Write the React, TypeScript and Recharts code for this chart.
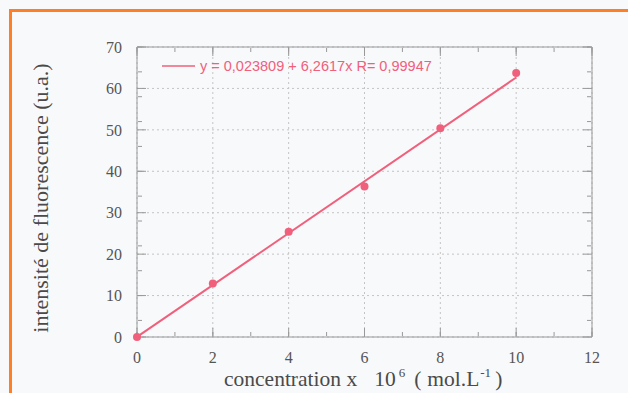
import React from "react";
import {
  ComposedChart,
  Scatter,
  Line,
  XAxis,
  YAxis,
  CartesianGrid,
} from "recharts";

// measured points
const concentrations = [0, 2, 4, 6, 8, 10];
const intensities = [0, 12.9, 25.4, 36.3, 50.4, 63.7];

// fitted line end points: y = 0,023809 + 6,2617x
const fitX = [0, 10];
const fitY = [0.024, 62.64];

const xTicks = [0, 2, 4, 6, 8, 10, 12];
const xMinor = [0, 0.5, 1, 1.5, 2, 2.5, 3, 3.5, 4, 4.5, 5, 5.5, 6, 6.5, 7, 7.5, 8, 8.5, 9, 9.5, 10, 10.5, 11, 11.5, 12];
const yTicks = [0, 10, 20, 30, 40, 50, 60, 70];
const yMinor = [0, 2, 4, 6, 8, 10, 12, 14, 16, 18, 20, 22, 24, 26, 28, 30, 32, 34, 36, 38, 40, 42, 44, 46, 48, 50, 52, 54, 56, 58, 60, 62, 64, 66, 68, 70];

const legendText = "y = 0,023809 + 6,2617x R= 0,99947";

const points = concentrations.map((x, i) => ({ x, y: intensities[i] }));
const fit = fitX.map((x, i) => ({ x, y: fitY[i] }));

const RED = "#f0607c";
const FRAME = "#999";
const SERIF = "'Liberation Serif', 'Times New Roman', serif";

const XLabel = ({ viewBox }: any) => {
  const x = viewBox.x + 87;
  const y = viewBox.y + 49;
  return (
    <text x={x} y={y} textAnchor="start" fontFamily={SERIF} fontSize={21.5} fill="#4a4a4a">
      <tspan>concentration x</tspan>
      <tspan dx={17}>10</tspan>
      <tspan dx={3} dy={-9} fontSize={13}>6</tspan>
      <tspan dx={9} dy={9}>(</tspan>
      <tspan dx={6}>mol.L</tspan>
      <tspan dx={1} dy={-9} fontSize={13}>-1</tspan>
      <tspan dx={4} dy={9}>)</tspan>
    </text>
  );
};

const YLabel = ({ viewBox }: any) => {
  const x = 40;
  const cy = viewBox.y + viewBox.height / 2 + 6;
  return (
    <text
      x={x}
      y={cy}
      textAnchor="middle"
      fontFamily={SERIF}
      fontSize={22}
      fill="#4a4a4a"
      transform={`rotate(-90, ${x}, ${cy})`}
      dominantBaseline="central"
    >
      intensité de fluorescence (u.a.)
    </text>
  );
};

const Hidden = () => <g />;

export default function App() {
  const dom: [number, number] = [0, 70];
  const xdom: [number, number] = [0, 12];
  const deco = { allowDataOverflow: true, tick: <Hidden /> };
  return (
    <div
      style={{
        position: "absolute",
        left: 0,
        top: 0,
        width: 628,
        height: 393,
        background: "#f8f9fb",
        overflow: "hidden",
      }}
    >
      <div
        style={{
          position: "absolute",
          left: 9,
          top: 9,
          width: 640,
          height: 400,
          borderTop: "3px solid #ff7f27",
          borderLeft: "3px solid #ff7f27",
        }}
      />
      <div style={{ position: "absolute", left: 0, top: 0 }}>
        <ComposedChart width={628} height={393} margin={{ top: 47, right: 36, bottom: 0, left: 77 }}>
          <CartesianGrid
            xAxisId="b"
            yAxisId="l"
            stroke="#c4c4c4"
            strokeDasharray="2 3"
            horizontalValues={yTicks}
            verticalValues={xTicks}
          />
          {/* bottom axis with labels */}
          <XAxis
            xAxisId="b"
            type="number"
            dataKey="x"
            domain={xdom}
            ticks={xTicks}
            axisLine={{ stroke: FRAME }}
            tickLine={false}
            tickMargin={9}
            tick={{ fontFamily: SERIF, fontSize: 16, fill: "#555" }}
            height={56}
            label={<XLabel />}
          />
          {/* inner ticks, bottom */}
          <XAxis xAxisId="bM" type="number" dataKey="x" domain={xdom} ticks={xTicks} mirror axisLine={false} tickSize={9} tickLine={{ stroke: FRAME }} height={1} {...deco} />
          <XAxis xAxisId="bm" type="number" dataKey="x" domain={xdom} ticks={xMinor} mirror axisLine={false} tickSize={4} tickLine={{ stroke: FRAME }} height={1} {...deco} />
          {/* top frame */}
          <XAxis xAxisId="tM" orientation="top" type="number" dataKey="x" domain={xdom} ticks={xTicks} mirror axisLine={{ stroke: FRAME }} tickSize={9} tickLine={{ stroke: FRAME }} height={1} {...deco} />
          <XAxis xAxisId="tm" orientation="top" type="number" dataKey="x" domain={xdom} ticks={xMinor} mirror axisLine={false} tickSize={4} tickLine={{ stroke: FRAME }} height={1} {...deco} />
          {/* left axis with labels */}
          <YAxis
            yAxisId="l"
            type="number"
            dataKey="y"
            domain={dom}
            ticks={yTicks}
            axisLine={{ stroke: FRAME }}
            tickLine={false}
            tickMargin={9}
            tick={{ fontFamily: SERIF, fontSize: 16, fill: "#555" }}
            width={60}
            label={<YLabel />}
          />
          <YAxis yAxisId="lM" type="number" dataKey="y" domain={dom} ticks={yTicks} mirror axisLine={false} tickSize={9} tickLine={{ stroke: FRAME }} width={1} {...deco} />
          <YAxis yAxisId="lm" type="number" dataKey="y" domain={dom} ticks={yMinor} mirror axisLine={false} tickSize={4} tickLine={{ stroke: FRAME }} width={1} {...deco} />
          {/* right frame */}
          <YAxis yAxisId="rM" orientation="right" type="number" dataKey="y" domain={dom} ticks={yTicks} mirror axisLine={{ stroke: FRAME }} tickSize={9} tickLine={{ stroke: FRAME }} width={1} {...deco} />
          <YAxis yAxisId="rm" orientation="right" type="number" dataKey="y" domain={dom} ticks={yMinor} mirror axisLine={false} tickSize={4} tickLine={{ stroke: FRAME }} width={1} {...deco} />

          {/* invisible series so the frame axes get registered */}
          <Scatter xAxisId="bM" yAxisId="lM" data={points} dataKey="y" shape={<Hidden />} isAnimationActive={false} />
          <Scatter xAxisId="bm" yAxisId="lm" data={points} dataKey="y" shape={<Hidden />} isAnimationActive={false} />
          <Scatter xAxisId="tM" yAxisId="rM" data={points} dataKey="y" shape={<Hidden />} isAnimationActive={false} />
          <Scatter xAxisId="tm" yAxisId="rm" data={points} dataKey="y" shape={<Hidden />} isAnimationActive={false} />

          <Line
            xAxisId="b"
            yAxisId="l"
            data={fit}
            dataKey="y"
            type="linear"
            stroke={RED}
            strokeWidth={2}
            dot={false}
            activeDot={false}
            isAnimationActive={false}
          />
          <Scatter
            xAxisId="b"
            yAxisId="l"
            data={points}
            dataKey="y"
            fill={RED}
            shape={(p: any) => <circle cx={p.cx} cy={p.cy} r={4} fill={RED} />}
            isAnimationActive={false}
          />
        </ComposedChart>
      </div>
      {/* legend */}
      <svg style={{ position: "absolute", left: 0, top: 0 }} width={628} height={393} pointerEvents="none">
        <line x1={162} y1={66} x2={195} y2={66} stroke={RED} strokeWidth={1.5} />
        <text x={200} y={71} fontFamily="'Liberation Sans', Arial, sans-serif" fontSize={14.5} fill={RED}>
          {legendText}
        </text>
      </svg>
    </div>
  );
}
